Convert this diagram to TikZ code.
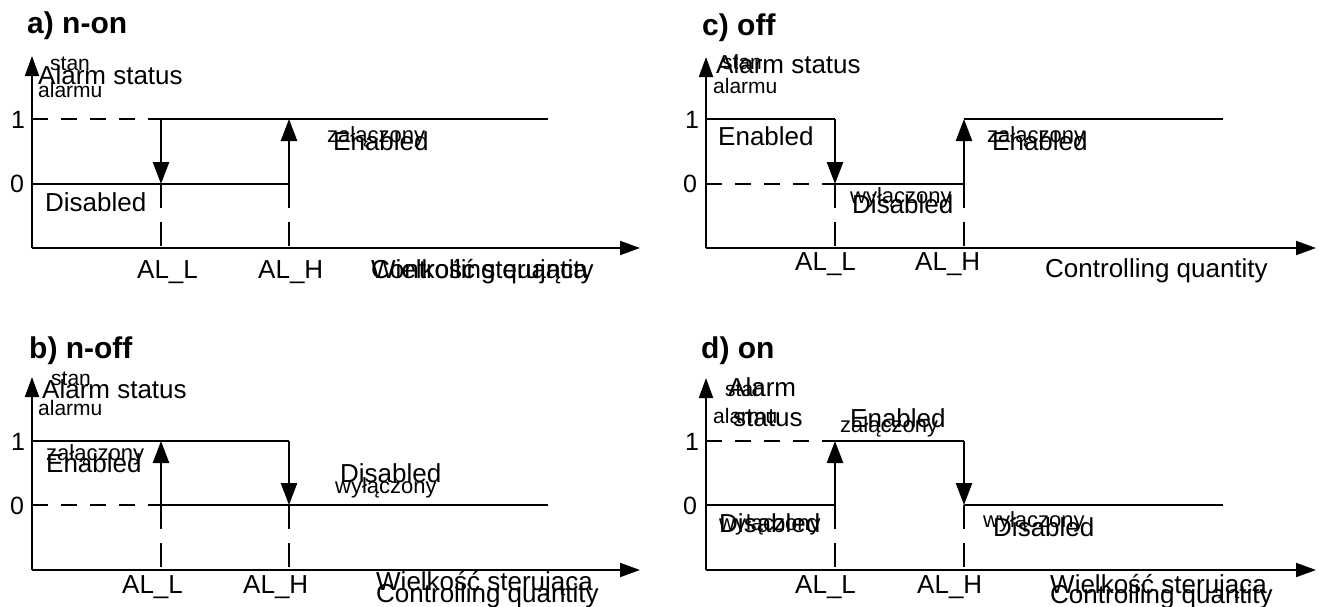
\documentclass[tikz,border=0pt]{standalone}
\usepackage{fontspec}
\setmainfont{Liberation Sans}
\usetikzlibrary{arrows.meta}
\begin{document}
\begin{tikzpicture}[x=1pt,y=-1pt,
  axis/.style={line width=2pt,-{Triangle[length=20pt,width=14pt]}},
  lvl/.style={line width=2.7pt},
  dlvl/.style={line width=2.7pt,dash pattern=on 16pt off 13pt},
  dvert/.style={line width=2.7pt,dash pattern=on 24pt off 14pt},
  sarrow/.style={line width=2.5pt,-{Triangle[length=22pt,width=16pt]}},
  lbl/.style={anchor=base west,inner sep=0pt,font=\fontsize{26}{30}\selectfont},
  pl/.style={anchor=base west,inner sep=0pt,font=\fontsize{22}{26}\selectfont},
  sm/.style={anchor=base west,inner sep=0pt,font=\fontsize{21}{25}\selectfont},
  ttl/.style={anchor=base west,inner sep=0pt,font=\bfseries\fontsize{30}{34}\selectfont},
  num/.style={anchor=center,inner sep=0pt,font=\fontsize{25}{30}\selectfont}]
\fill[white] (0,0) rectangle (1319,606);
\useasboundingbox (0,0) rectangle (1319,606);

% ================= panel a =================
\coordinate (aO) at (32,248);
\coordinate (aT) at (32,56);
\coordinate (aX) at (640,248);
\coordinate (a1s) at (32,119);
\coordinate (a1L) at (161,119);
\coordinate (a1H) at (289,119);
\coordinate (a1e) at (548,119);
\coordinate (a0s) at (32,184);
\coordinate (a0L) at (161,184);
\coordinate (a0H) at (289,184);
\coordinate (aBL) at (161,248);
\coordinate (aBH) at (289,248);
\draw[axis] (aO) -- (aT);
\draw[axis] (aO) -- (aX);
\draw[dlvl] (a1s) -- (a1L);
\draw[lvl] (a1L) -- (a1e);
\draw[lvl] (a0s) -- (a0H);
\draw[sarrow] (a1L) -- (a0L);
\draw[sarrow] (a0H) -- (a1H);
\draw[dvert] (a0L) -- (aBL);
\draw[dvert] (a0H) -- (aBH);
\node[ttl] (ta) at (27,33) {a) n-on};
\node[sm] (ast) at (50,70) {stan};
\node[lbl] (aal) at (38,84) {Alarm status};
\node[sm] (aam) at (38,97) {alarmu};
\node[num] (a1) at (18,120) {1};
\node[num] (a0) at (17,184) {0};
\node[lbl] (adis) at (45,211) {Disabled};
\node[pl] (azal) at (327,142) {załączony};
\node[lbl] (aen) at (333,150) {Enabled};
\node[lbl] (aALL) at (137,278) {AL\_L};
\node[lbl] (aALH) at (258,278) {AL\_H};
\node[lbl] (awie) at (371,278) {Wielkość sterująca};
\node[lbl] (acon) at (371,278) {Controlling quantity};

% ================= panel b =================
\coordinate (bO) at (32,570);
\coordinate (bT) at (32,377);
\coordinate (bX) at (640,570);
\coordinate (b1s) at (32,441);
\coordinate (b1L) at (161,441);
\coordinate (b1H) at (289,441);
\coordinate (b0s) at (32,505);
\coordinate (b0L) at (161,505);
\coordinate (b0H) at (289,505);
\coordinate (b0e) at (548,505);
\coordinate (bBL) at (161,570);
\coordinate (bBH) at (289,570);
\draw[axis] (bO) -- (bT);
\draw[axis] (bO) -- (bX);
\draw[lvl] (b1s) -- (b1H);
\draw[dlvl] (b0s) -- (b0L);
\draw[lvl] (b0L) -- (b0e);
\draw[sarrow] (b0L) -- (b1L);
\draw[sarrow] (b1H) -- (b0H);
\draw[dvert] (b0L) -- (bBL);
\draw[dvert] (b0H) -- (bBH);
\node[ttl] (tb) at (29,358) {b) n-off};
\node[sm] (bst) at (51,385) {stan};
\node[lbl] (bal) at (42,398) {Alarm status};
\node[sm] (bam) at (38,415) {alarmu};
\node[num] (b1) at (18,442) {1};
\node[num] (b0) at (17,506) {0};
\node[pl] (bzal) at (46,460) {załączony};
\node[lbl] (ben) at (46,472) {Enabled};
\node[lbl] (bdis) at (340,482) {Disabled};
\node[pl] (bwyl) at (335,493) {wyłączony};
\node[lbl] (bALL) at (122,593) {AL\_L};
\node[lbl] (bALH) at (243,593) {AL\_H};
\node[lbl] (bwie) at (376,590) {Wielkość sterująca};
\node[lbl] (bcon) at (376,602) {Controlling quantity};

% ================= panel c =================
\coordinate (cO) at (706,248);
\coordinate (cT) at (706,57);
\coordinate (cX) at (1316,248);
\coordinate (c1s) at (706,119);
\coordinate (c1L) at (835,119);
\coordinate (c1H) at (964,119);
\coordinate (c1e) at (1223,119);
\coordinate (c0s) at (706,184);
\coordinate (c0L) at (835,184);
\coordinate (c0H) at (964,184);
\coordinate (cBL) at (835,248);
\coordinate (cBH) at (964,248);
\draw[axis] (cO) -- (cT);
\draw[axis] (cO) -- (cX);
\draw[lvl] (c1s) -- (c1L);
\draw[dlvl] (c0s) -- (c0L);
\draw[lvl] (c0L) -- (c0H);
\draw[lvl] (c1H) -- (c1e);
\draw[sarrow] (c1L) -- (c0L);
\draw[sarrow] (c0H) -- (c1H);
\draw[dvert] (c0L) -- (cBL);
\draw[dvert] (c0H) -- (cBH);
\node[ttl] (tc) at (702,35) {c) off};
\node[sm] (cst) at (722,69) {stan};
\node[lbl] (cal) at (716,73) {Alarm status};
\node[sm] (cam) at (713,93) {alarmu};
\node[num] (c1) at (692,120) {1};
\node[num] (c0) at (690,184) {0};
\node[lbl] (cen) at (718,145) {Enabled};
\node[pl] (cwyl) at (850,203) {wyłączony};
\node[lbl] (cdis) at (852,213) {Disabled};
\node[pl] (czal) at (987,142) {załączony};
\node[lbl] (cen2) at (992,150) {Enabled};
\node[lbl] (cALL) at (795,270) {AL\_L};
\node[lbl] (cALH) at (915,270) {AL\_H};
\node[lbl] (ccon) at (1045,277) {Controlling quantity};

% ================= panel d =================
\coordinate (dO) at (706,570);
\coordinate (dT) at (706,378);
\coordinate (dX) at (1316,570);
\coordinate (d1s) at (706,441);
\coordinate (d1L) at (835,441);
\coordinate (d1H) at (964,441);
\coordinate (d0s) at (706,505);
\coordinate (d0L) at (835,505);
\coordinate (d0H) at (964,505);
\coordinate (d0e) at (1223,505);
\coordinate (dBL) at (835,570);
\coordinate (dBH) at (964,570);
\draw[axis] (dO) -- (dT);
\draw[axis] (dO) -- (dX);
\draw[dlvl] (d1s) -- (d1L);
\draw[lvl] (d1L) -- (d1H);
\draw[lvl] (d0s) -- (d0L);
\draw[lvl] (d0H) -- (d0e);
\draw[sarrow] (d0L) -- (d1L);
\draw[sarrow] (d1H) -- (d0H);
\draw[dvert] (d0L) -- (dBL);
\draw[dvert] (d0H) -- (dBH);
\node[ttl] (td) at (701,358) {d) on};
\node[sm] (dst) at (725,396) {stan};
\node[lbl] (dal) at (728,396) {Alarm};
\node[sm] (dam) at (713,423) {alarmu};
\node[lbl] (dsa) at (733,426) {status};
\node[num] (d1) at (692,442) {1};
\node[num] (d0) at (690,506) {0};
\node[lbl] (den) at (850,427) {Enabled};
\node[pl] (dzal) at (840,432) {załączony};
\node[pl] (dwyl) at (719,530) {wyłączony};
\node[lbl] (ddis) at (719,532) {Disabled};
\node[pl] (dwyl2) at (983,527) {wyłączony};
\node[lbl] (ddis2) at (993,536) {Disabled};
\node[lbl] (dALL) at (795,593) {AL\_L};
\node[lbl] (dALH) at (917,593) {AL\_H};
\node[lbl] (dwie) at (1050,593) {Wielkość sterująca};
\node[lbl] (dcon) at (1050,603) {Controlling quantity};
\end{tikzpicture}
\end{document}
